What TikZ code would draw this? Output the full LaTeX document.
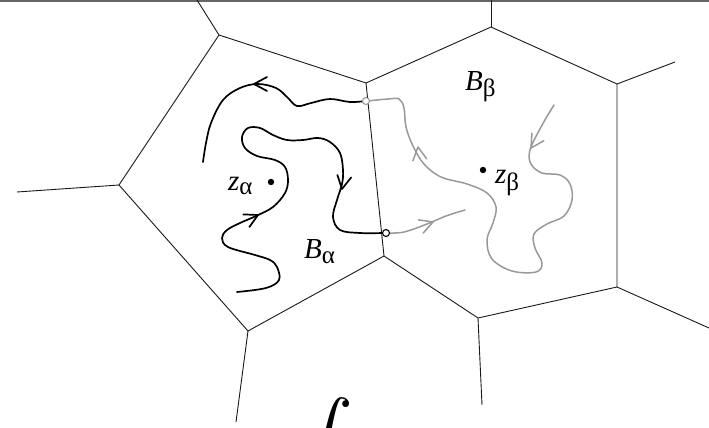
\documentclass[tikz,border=0pt]{standalone}
\usepackage{fontspec}
\setmainfont{Liberation Serif}
\newcommand\chev[4]{\draw[#4, shift={(#1,#2)}, rotate=#3] (-13,7) -- (0,0) -- (-13,-7);}
\begin{document}
\begin{tikzpicture}[x=1pt,y=-1pt,
  vor/.style={line width=0.9pt, black!90},
  bpath/.style={line width=1.7pt, line cap=round, line join=round, black},
  gpath/.style={line width=1.5pt, line cap=round, line join=round, black!40},
  lab/.style={inner sep=0pt, anchor=base west, font=\fontsize{29}{29}\selectfont},
  port/.style={circle, draw, fill=white, line width=1.1pt, inner sep=0pt, minimum size=7pt}
]
\useasboundingbox (0,0) rectangle (709,428);
\clip (0,0) rectangle (709,428);
\draw[line width=1.6pt, black!60] (0,0.8) -- (709,0.8);

% Voronoi vertices
\coordinate (P1) at (219,35);
\coordinate (P2) at (366,83);
\coordinate (P3) at (384,256);
\coordinate (P4) at (248,331);
\coordinate (P5) at (119,185);
\coordinate (H2) at (491,27);
\coordinate (H3) at (617,84);
\coordinate (H4) at (617,287);
\coordinate (H5) at (478,318);
\coordinate (E1) at (197,0);
\coordinate (E5) at (17,192);
\coordinate (E4) at (236,422);
\coordinate (EH2) at (491,0);
\coordinate (EH3) at (675,62);
\coordinate (EH4) at (709,328);
\coordinate (EH5) at (482,405);

\draw[vor] (P1) -- (P2) -- (P3) -- (P4) -- (P5) -- cycle;
\draw[vor] (P2) -- (H2) -- (H3) -- (H4) -- (H5) -- (P3);
\draw[vor] (P1) -- (E1);
\draw[vor] (P5) -- (E5);
\draw[vor] (P4) -- (E4);
\draw[vor] (H2) -- (EH2);
\draw[vor] (H3) -- (EH3);
\draw[vor] (H4) -- (EH4);
\draw[vor] (H5) -- (EH5);

% gray paths
\draw[gpath] plot[smooth, tension=0.6] coordinates {
 (554,105) (541,127) (530,150) (531,164) (542,173) (560,175) (570,184) (572,200)
 (564,216) (547,224) (534,234) (535,248) (542,263) (536,272) (512,271) (492,259)
 (487,240) (493,223) (496,207) (487,193) (467,184) (441,177) (424,164) (413,146)
 (406,127) (404,108) (399,99) (388,99) (367,101)};
\draw[gpath] plot[smooth, tension=0.6] coordinates {
 (387,233) (404,232) (427,224) (446,216) (465,210)};
\chev{418}{147}{98}{gpath}
\chev{531}{148}{-122}{gpath}
\chev{433}{222}{20}{gpath}

% black paths
\draw[bpath] plot[smooth, tension=0.6] coordinates {
 (366,101) (350,102) (330,99) (311,103) (297,106) (287,97) (276,88) (258,84)
 (240,88) (223,100) (211,123) (206,143) (203,162)};
\draw[bpath] plot[smooth, tension=0.6] coordinates {
 (237,292) (266,288) (279,280) (277,267) (270,260) (255,255) (228,247) (222,238)
 (227,230) (240,223) (256,216) (273,207) (285,193) (288,180) (285,167) (275,160)
 (257,156) (245,148) (242,137) (248,128) (260,128) (273,135) (287,140) (303,140)
 (318,138) (330,142) (340,153) (343,170) (342,184) (337,200) (333,217) (340,230)
 (360,233) (383,233)};
\chev{254}{84}{180}{bpath}
\chev{258}{215}{26}{bpath}
\chev{342}{189}{-100}{bpath}

\node[port, draw=black!40] (g) at (366,101) {};
\node[port] (b) at (386,233) {};

% centres
\fill (271,182) circle (3.2pt);
\fill (483,170) circle (3.2pt);

% labels
\node[lab] (za) at (228,190) {\textit{z}\raisebox{-4pt}{\fontsize{25}{25}\selectfont α}};
\node[lab] (Ba) at (304,258) {\textit{B}\raisebox{-5pt}{\fontsize{25}{25}\selectfont α}};
\node[lab] (Bb) at (465,90) {\textit{B}\raisebox{-6pt}{\fontsize{25}{25}\selectfont β}};
\node[lab] (zb) at (495,183) {\textit{z}\raisebox{-7pt}{\fontsize{25}{25}\selectfont β}};

\node[inner sep=0pt, anchor=north east, scale=7] (int) at (355,396) {$\displaystyle\int$};
\end{tikzpicture}
\end{document}
